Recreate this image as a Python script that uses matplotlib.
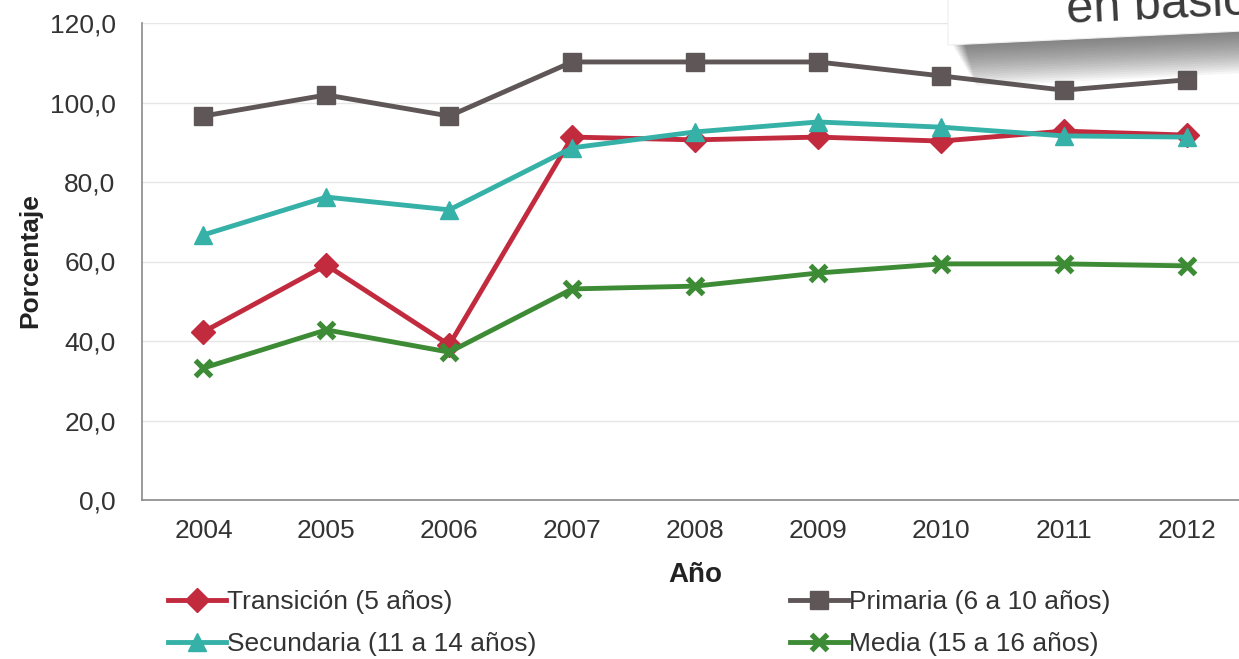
import matplotlib.pyplot as plt
from matplotlib.patches import Polygon

# datos
years = ['2004', '2005', '2006', '2007', '2008', '2009', '2010', '2011', '2012']
transicion = [42.3, 59.1, 39.0, 91.3, 90.6, 91.3, 90.3, 92.8, 91.8]
primaria = [96.6, 101.9, 96.6, 110.2, 110.2, 110.2, 106.7, 103.1, 105.7]
secundaria = [66.7, 76.2, 73.0, 88.6, 92.6, 95.1, 93.8, 91.6, 91.3]
media = [33.2, 42.8, 37.2, 53.1, 53.8, 57.1, 59.4, 59.4, 58.9]
yticks = [0, 20, 40, 60, 80, 100, 120]

names = ['Transición (5 años)', 'Primaria (6 a 10 años)',
         'Secundaria (11 a 14 años)', 'Media (15 a 16 años)']
colors = ['#C22A3E', '#5F5757', '#35B1A8', '#3E8B36']
markers = ['D', 's', '^', 'x']

plt.rcParams['font.family'] = ['Liberation Sans', 'DejaVu Sans']

W, H = 1239, 659
fig = plt.figure(figsize=(W / 100, H / 100), dpi=100)
ax = fig.add_axes([142 / W, (H - 500) / H, 9 * 122.9 / W, 477 / H])

xs = range(len(years))
series = [transicion, primaria, secundaria, media]
handles = []
for vals, name, col, mk in zip(series, names, colors, markers):
    if mk == 'x':
        ms, mew = 11, 3.8
    elif mk == 'D':
        ms, mew = 12, 1
    else:
        ms, mew = 13, 1
    ln, = ax.plot(xs, vals, color=col, lw=3.5, marker=mk, ms=ms, mew=mew,
                  mec=col, mfc=col, label=name)
    handles.append(ln)

ax.set_xlim(-0.5, len(years) - 0.5)
ax.set_ylim(0, 120)
ax.set_xticks(list(xs))
ax.set_xticklabels(years)
ax.set_yticks(yticks)
ax.set_yticklabels([('%.1f' % v).replace('.', ',') for v in yticks])
ax.tick_params(axis='both', length=0, labelsize=19, labelcolor='#333333')
ax.tick_params(axis='y', pad=19)
ax.tick_params(axis='x', pad=14)
ax.grid(axis='y', color='#E6E6E6', lw=1)
ax.set_axisbelow(True)
for s in ['top', 'right']:
    ax.spines[s].set_visible(False)
for s in ['left', 'bottom']:
    ax.spines[s].set_color('#8A8A8A')
    ax.spines[s].set_linewidth(1.2)

ax.set_xlabel('Año', fontsize=20, fontweight='bold', color='#222222', va='center')
ax.xaxis.set_label_coords(0.5, -0.158)
ax.set_ylabel('Porcentaje', fontsize=19, fontweight='bold', color='#222222', va='center')
ax.yaxis.set_label_coords(-0.101, 0.503)

# leyenda: dos columnas colocadas por separado
cols = [(168, [0, 2]), (790, [1, 3])]
for x0, idx in cols:
    leg = fig.legend([handles[i] for i in idx], [names[i] for i in idx],
                     loc='upper left', bbox_to_anchor=(x0 / W, 1 - 590 / H),
                     frameon=False, fontsize=19, handlelength=2.2,
                     handletextpad=0.05, labelspacing=0.68,
                     borderpad=0, borderaxespad=0)
    for t in leg.get_texts():
        t.set_color('#333333')

# recuadro blanco con sombra arriba a la derecha
def fy(py):
    return 1 - py / H

for k in range(18):
    off = 2 + k * 2.3
    poly = Polygon([(950 / W, fy(-10)), (1.02, fy(-20)),
                    (1.02, fy(31 + off)), ((952 + off * 0.6) / W, fy(45 + off))],
                   closed=True, transform=fig.transFigure,
                   facecolor='#4A4A4A', edgecolor='none', alpha=0.055, zorder=10)
    fig.add_artist(poly)
box = Polygon([(948 / W, fy(-10)), (1.02, fy(-20)), (1.02, fy(30)), (948 / W, fy(45))],
              closed=True, transform=fig.transFigure,
              facecolor='white', edgecolor='#EEEEEE', lw=0.8, zorder=11)
fig.add_artist(box)
fig.text(1067 / W, fy(23), 'en básica', fontsize=35, color='#3A3A3A',
         rotation=2.7, rotation_mode='anchor', ha='left', va='baseline',
         family=['Liberation Sans', 'DejaVu Sans'], zorder=12)

fig.savefig('out.png', dpi=100)
